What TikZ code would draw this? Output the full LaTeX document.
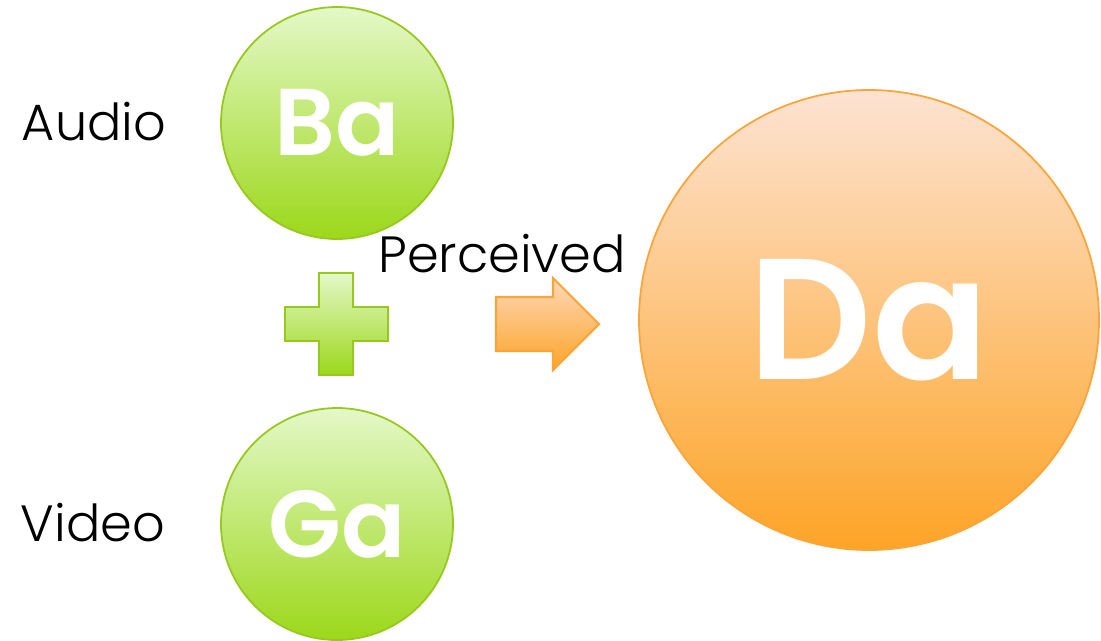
\documentclass[tikz,border=0pt]{standalone}
\usepackage{fontspec}
\setmainfont{Poppins}
\newfontfamily\labelfont{Poppins Light}
\newfontfamily\letterfont{Poppins SemiBold}
\usepackage{xcolor}
\usepackage{tikz}
\usetikzlibrary{positioning, calc, shadings}

\definecolor{gTop}{HTML}{E4F8C8}
\definecolor{gMid}{HTML}{C8F486}
\definecolor{gBot}{HTML}{9CD81A}
\definecolor{gLine}{HTML}{96C81E}
\definecolor{oTop}{HTML}{FDE3D2}
\definecolor{oMid}{HTML}{FCBE80}
\definecolor{oBot}{HTML}{FDA426}
\definecolor{oLine}{HTML}{F9A53A}

\begin{document}
\begin{tikzpicture}[
    syllable/.style={circle, draw=gLine, line width=0.5pt, top color=gTop, middle color=gMid, bottom color=gBot, inner sep=0pt, minimum size=2.32cm, text=white, font=\letterfont\fontsize{27}{30}\selectfont},
    percept/.style={circle, draw=oLine, line width=0.5pt, top color=oTop, middle color=oMid, bottom color=oBot, inner sep=0pt, minimum size=4.6cm, text=white, font=\letterfont\fontsize{49}{54}\selectfont},
    channel/.style={font=\labelfont\fontsize{14.5}{17}\selectfont},
]
\useasboundingbox (0,0) rectangle (11.01,6.40);
\clip (0,0) rectangle (11.01,6.40);

% Syllables
\node[syllable] (ba) at (3.37,5.17) {Ba};
\node[syllable] (ga) at (3.37,1.16) {Ga};
\node[channel] (audio) at (0.94,5.18) {Audio};
\node[channel] (video) at (0.93,1.17) {Video};

% Plus
\path[draw=gLine, line width=0.6pt, top color=gTop, bottom color=gBot]
    (3.19,3.67) -- (3.53,3.67) -- (3.53,3.33) -- (3.88,3.33) -- (3.88,2.99) -- (3.53,2.99)
    -- (3.53,2.65) -- (3.19,2.65) -- (3.19,2.99) -- (2.85,2.99) -- (2.85,3.33) -- (3.19,3.33) -- cycle;

% Arrow
\path[draw=oLine, line width=0.6pt, top color=oTop!70!oMid, bottom color=oBot]
    (4.96,3.43) -- (5.53,3.43) -- (5.53,3.62) -- (5.99,3.16) -- (5.53,2.70) -- (5.53,2.89) -- (4.96,2.89) -- cycle;
\node[channel, anchor=base] (perceived) at (5.02,3.68) {Perceived};

% Result
\node[percept] (da) at (8.69,3.20) {Da};

\end{tikzpicture}
\end{document}
